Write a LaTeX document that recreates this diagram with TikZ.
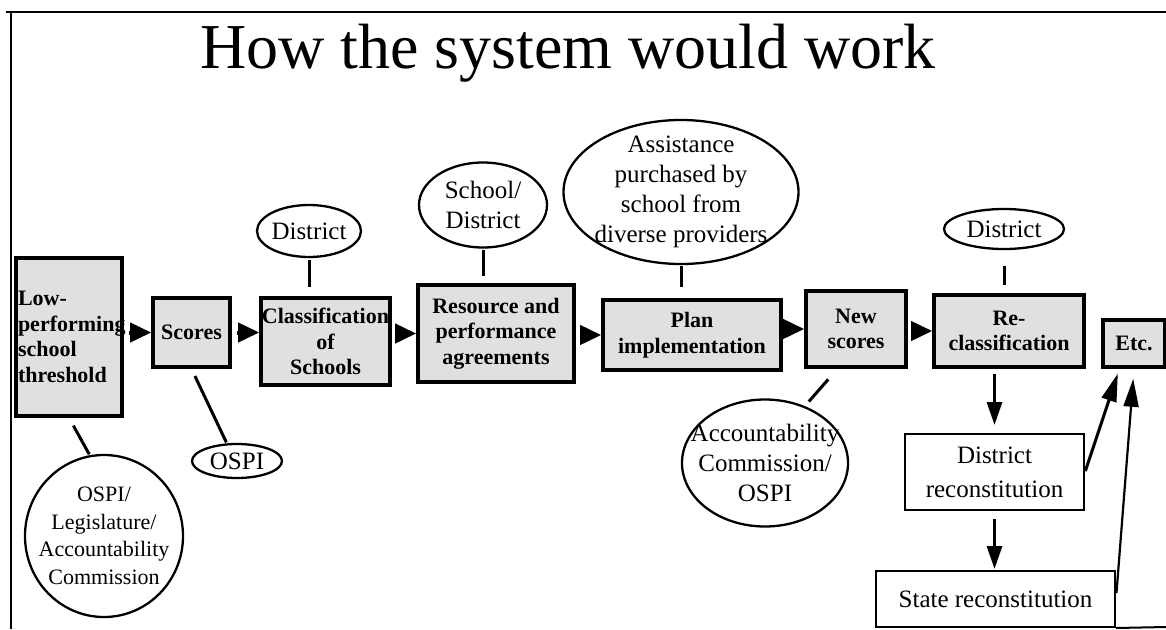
\documentclass[tikz,border=0pt]{standalone}
\usepackage{fontspec}
\setmainfont{Liberation Serif}
\usetikzlibrary{arrows.meta,shapes.geometric}
\definecolor{stagefill}{RGB}{224,224,224}
\newcommand{\stagefont}{\bfseries\fontsize{22}{25.5}\selectfont}
\newcommand{\actorfont}{\fontsize{25}{30}\selectfont}
\tikzset{
  stage/.style={draw, line width=3.6pt, fill=stagefill, inner sep=0pt, align=center, font=\stagefont},
  outcome/.style={draw, line width=2pt, inner sep=0pt, align=center, font=\fontsize{25}{34}\selectfont},
  actor/.style={ellipse, draw, line width=2.3pt, inner sep=0pt},
  actortext/.style={align=center, font=\actorfont},
  tie/.style={line width=3pt},
  flow/.style={line width=4pt, -{Triangle[length=21pt,width=19pt]}},
  drop/.style={line width=3pt, -{Triangle[length=23pt,width=15pt]}},
  rise/.style={line width=3pt, -{Triangle[length=28pt,width=15pt]}},
}

\begin{document}
\begin{tikzpicture}[x=1pt,y=-1pt]
\useasboundingbox (0,0) rectangle (1166,629);
\draw[line width=2.4pt] (6,12) -- (1166,12);
\draw[line width=2.4pt] (11,12) -- (11,629);

\node[font=\fontsize{64}{70}\selectfont, anchor=base] (title) at (568,68) {How the system would work};

\node[stage, minimum width=106pt, minimum height=158pt, text width=102pt, align=left] (low) at (69,337) {Low-\\performing\\school\\threshold};
\node[stage, minimum width=77pt, minimum height=69pt] (scores) at (191.5,332.5) {Scores};
\node[stage, minimum width=129pt, minimum height=87pt] (classif) at (325.5,341.5) {Classification\\of\\Schools};
\node[stage, minimum width=156pt, minimum height=97pt] (resource) at (496,333.5) {Resource and\\performance\\agreements};
\node[stage, minimum width=178pt, minimum height=70pt] (plan) at (692,335) {Plan\\implementation};
\node[stage, minimum width=100pt, minimum height=76pt] (newscores) at (856,329) {New\\scores};
\node[stage, minimum width=150pt, minimum height=72pt] (reclass) at (1009,331) {Re-\\classification};
\node[stage, minimum width=62pt, minimum height=47pt] (etc) at (1134,343.5) {Etc.};

\node[outcome, minimum width=179pt, minimum height=76pt] (drecon) at (994.5,472) {District\\reconstitution};
\node[outcome, minimum width=239pt, minimum height=56pt] (srecon) at (995.5,599) {State reconstitution};

\node[actor, minimum width=104pt, minimum height=52pt, label={[actortext]center:District}] (distA) at (309,231) {};
\node[actor, minimum width=128pt, minimum height=85pt, label={[actortext]center:{School/\\District}}] (schdist) at (483,205) {};
\node[actor, minimum width=235pt, minimum height=144pt, label={[actortext]center:{Assistance\\purchased by\\school from\\diverse providers}}] (assist) at (681,192) {};
\node[actor, minimum width=120pt, minimum height=40pt, label={[actortext]center:District}] (distB) at (1004,229) {};
\node[actor, minimum width=90pt, minimum height=34pt, label={[actortext]center:OSPI}] (ospi) at (237,461) {};
\node[actor, minimum width=158pt, minimum height=162pt, label={[actortext, font=\fontsize{22}{27.5}\selectfont]center:{OSPI/\\Legislature/\\Accountability\\Commission}}] (legis) at (104,536) {};
\node[actor, minimum width=166pt, minimum height=127pt, label={[actortext]center:{Accountability\\Commission/\\OSPI}}] (acc) at (765,463) {};

\draw[tie, shorten <=2pt, shorten >=9pt] (distA.south) -- (distA.south |- classif.north);
\draw[tie, shorten <=1pt, shorten >=7pt] (schdist.south) -- (schdist.south |- resource.north);
\draw[tie, shorten <=1pt, shorten >=11pt] (assist.south) -- (assist.south |- plan.north);
\draw[tie, shorten <=16pt, shorten >=8pt] (distB.south) -- (distB.south |- reclass.north);
\draw[tie, shorten <=8pt, shorten >=1pt] (scores.south) -- (ospi.120);
\draw[tie, shorten <=9pt, shorten >=1pt] (low.south) -- (legis.100);
\draw[tie, shorten <=14pt, shorten >=6pt] (newscores.-115) -- (acc.55);

\draw[flow, shorten <=5pt] (low.east |- scores) -- (scores.west);
\draw[flow, shorten <=5pt] (scores.east) -- (scores.east -| classif.west);
\draw[flow, shorten <=5pt] (classif.east |- resource) -- (resource.west);
\draw[flow, shorten <=4pt] (resource.east |- plan) -- (plan.west);
\draw[flow, shorten <=3pt] (plan.east |- newscores) -- (newscores.west);
\draw[flow, shorten <=4pt] (newscores.east |- reclass) -- (reclass.west);

\draw[drop, shorten <=5pt, shorten >=8pt] (drecon.north |- reclass.south) -- (drecon.north);
\draw[drop, shorten <=8pt, shorten >=1pt] (drecon.south) -- (drecon.south |- srecon.north);
\draw[rise, shorten <=1pt, shorten >=5pt] (drecon.east) -- (etc.240);
\draw[rise, line width=2.2pt, shorten <=6pt, shorten >=10pt] (srecon.east) -- (etc.south);
\draw[line width=2pt] (srecon.south east) -- (1166,627);
\end{tikzpicture}
\end{document}
